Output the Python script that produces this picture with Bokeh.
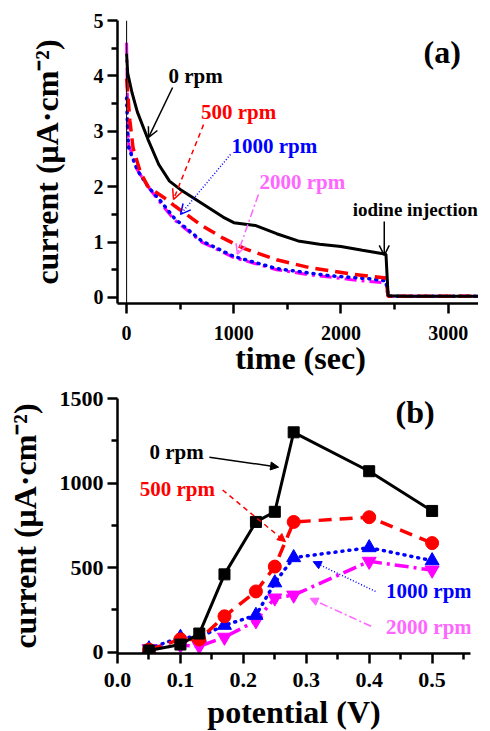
from bokeh.plotting import figure
from bokeh.layouts import column
from bokeh.models import (Arrow, OpenHead, NormalHead, Label, FixedTicker,
                          NumeralTickFormatter, Span)
from bokeh.embed import file_html
from bokeh.resources import INLINE

# ---------------- panel (a) data ----------------
t_0rpm = [0, 10, 50, 100, 200, 300, 400, 500, 700, 900, 1000, 1200, 1400, 1600, 1800, 2000, 2200, 2420, 2440, 2600, 3350]
i_0rpm = [4.4, 4.05, 3.7, 3.35, 2.85, 2.4, 2.1, 1.95, 1.7, 1.45, 1.35, 1.3, 1.15, 1.02, 0.96, 0.92, 0.85, 0.78, 0.03, 0.02, 0.02]

t_500 = [0, 10, 30, 60, 130, 200, 350, 450, 700, 900, 1100, 1400, 1700, 2100, 2420, 2440, 3350]
i_500 = [3.95, 3.7, 3.2, 2.7, 2.25, 2.0, 1.8, 1.65, 1.3, 1.07, 0.88, 0.68, 0.54, 0.42, 0.35, 0.02, 0.02]

t_1000 = [0, 10, 20, 100, 200, 300, 450, 700, 1000, 1400, 1900, 2250, 2420, 2440, 3350]
i_1000 = [3.6, 3.0, 2.7, 2.3, 2.0, 1.78, 1.42, 1.02, 0.74, 0.52, 0.39, 0.34, 0.3, 0.02, 0.02]

t_2000 = [0, 10, 20, 100, 200, 290, 440, 700, 1000, 1400, 1700, 2100, 2420, 2440, 3350]
i_2000 = [4.6, 3.2, 2.75, 2.3, 2.0, 1.77, 1.41, 1.0, 0.72, 0.5, 0.41, 0.32, 0.26, 0.02, 0.02]

# ---------------- panel (b) data ----------------
potential = [0.05, 0.10, 0.13, 0.17, 0.22, 0.25, 0.28, 0.40, 0.50]
j_0rpm = [10, 45, 110, 460, 770, 830, 1300, 1070, 835]
j_500 = [15, 76, 75, 212, 359, 506, 770, 798, 645]
j_1000 = [20, 88, 88, 159, 218, 410, 559, 618, 541]
j_2000 = [20, 41, 35, 88, 185, 320, 337, 537, 485]

xticks_a = [0, 1000, 2000, 3000]
xminor_a = [500, 1500, 2500]
yticks_a = [0, 1, 2, 3, 4, 5]
yminor_a = [0.5, 1.5, 2.5, 3.5, 4.5]
xticks_b = [0.0, 0.1, 0.2, 0.3, 0.4, 0.5]
xminor_b = [0.05, 0.15, 0.25, 0.35, 0.45, 0.55]
yticks_b = [0, 500, 1000, 1500]
yminor_b = [250, 750, 1250]

FONT = "Liberation Serif"
BLACK, RED, BLUE, MAG, PINK = "#000000", "#FF0000", "#0000FF", "#FF00FF", "#FF66FF"


def style(p, tick_size, label_size):
    p.outline_line_color = None
    p.xgrid.visible = False
    p.ygrid.visible = False
    p.background_fill_color = "white"
    p.border_fill_color = "white"
    for ax in (p.xaxis[0], p.yaxis[0]):
        ax.axis_line_width = 2.5
        ax.major_tick_line_width = 2.5
        ax.minor_tick_line_width = 2.5
        ax.major_tick_in = 0
        ax.major_tick_out = 10
        ax.minor_tick_in = 0
        ax.minor_tick_out = 6
        ax.major_label_text_font = FONT
        ax.major_label_text_font_style = "bold"
        ax.major_label_text_font_size = tick_size
        ax.major_label_text_color = "black"
        ax.axis_label_text_font = FONT
        ax.axis_label_text_font_style = "bold"
        ax.axis_label_text_font_size = label_size
        ax.axis_label_text_color = "black"
        ax.major_label_standoff = 4


def label(p, x, y, text, color, size="21px"):
    p.add_layout(Label(x=x, y=y, text=text, text_font=FONT, text_font_style="bold",
                       text_font_size=size, text_color=color, text_align="center",
                       text_baseline="middle"))


def arrow(p, xs, ys, xe, ye, color, dash, head):
    if head == "open":
        h = OpenHead(size=10, line_color=color, line_width=1.5)
    else:
        h = NormalHead(size=8, line_color=color, fill_color=color, line_width=1)
    p.add_layout(Arrow(end=h, x_start=xs, y_start=ys, x_end=xe, y_end=ye,
                       line_color=color, line_width=1.5, line_dash=dash))


# ================= panel (a) =================
p1 = figure(frame_width=366, frame_height=283, x_range=(-85, 3330), y_range=(-0.11, 5.0),
            output_backend="svg", toolbar_location=None,
            min_border_left=109, min_border_right=3, min_border_top=20, min_border_bottom=76)
style(p1, "20px", "32px")
p1.xaxis.ticker = FixedTicker(ticks=xticks_a, minor_ticks=xminor_a)
p1.yaxis.ticker = FixedTicker(ticks=yticks_a, minor_ticks=yminor_a)
p1.xaxis.axis_label = "time (sec)"
p1.yaxis.axis_label = "current (μA·cm⁻²)"
p1.xaxis.major_label_standoff = 12
p1.xaxis.axis_label_standoff = -3
p1.yaxis.axis_label_standoff = 26

p1.add_layout(Span(location=0, dimension="height", line_color="black", line_width=1))
p1.line(t_2000, i_2000, line_color=MAG, line_width=3, line_dash="12 5 3 5")
p1.line(t_1000, i_1000, line_color=BLUE, line_width=3.5, line_dash="1 6", line_cap="round")
p1.line(t_500, i_500, line_color=RED, line_width=3.5, line_dash="13 7")
p1.line(t_0rpm, i_0rpm, line_color=BLACK, line_width=3)

label(p1, 643, 3.99, "0 rpm", BLACK)
arrow(p1, 429, 3.79, 205, 2.89, BLACK, "solid", "open")
label(p1, 1044, 3.34, "500 rpm", RED)
arrow(p1, 718, 3.12, 438, 1.77, RED, "5 4", "open")
label(p1, 1379, 2.74, "1000 rpm", BLUE)
arrow(p1, 969, 2.58, 503, 1.50, BLUE, "1 2", "open")
label(p1, 1640, 2.08, "2000 rpm", PINK)
arrow(p1, 1230, 1.86, 1034, 0.78, PINK, "8 3 2 3", "open")
label(p1, 2693, 1.59, "iodine injection", BLACK, "19px")
arrow(p1, 2404, 1.37, 2404, 0.76, BLACK, "solid", "open")
label(p1, 2945, 4.44, "(a)", BLACK, "32px")

# ================= panel (b) =================
p2 = figure(frame_width=353, frame_height=255, x_range=(0, 0.561), y_range=(-8, 1500),
            output_backend="svg", toolbar_location=None,
            min_border_left=117, min_border_right=3, min_border_top=19, min_border_bottom=77)
style(p2, "22px", "32px")
p2.xaxis.ticker = FixedTicker(ticks=xticks_b, minor_ticks=xminor_b)
p2.yaxis.ticker = FixedTicker(ticks=yticks_b, minor_ticks=yminor_b)
p2.xaxis.formatter = NumeralTickFormatter(format="0.0")
p2.xaxis.axis_label = "potential (V)"
p2.yaxis.axis_label = "current (μA·cm⁻²)"
p2.xaxis.major_label_standoff = 9
p2.xaxis.axis_label_standoff = 4
p2.yaxis.axis_label_standoff = 14

p2.line(potential, j_2000, line_color=MAG, line_width=3.5, line_dash="14 5 3 5")
p2.scatter(potential, j_2000, marker="inverted_triangle", size=14, color=MAG)
p2.line(potential, j_1000, line_color=BLUE, line_width=3.5, line_dash="1 6", line_cap="round")
p2.scatter(potential, j_1000, marker="triangle", size=14, color=BLUE)
p2.line(potential, j_500, line_color=RED, line_width=3.5, line_dash="13 8")
p2.scatter(potential, j_500, marker="circle", size=13, color=RED)
p2.line(potential, j_0rpm, line_color=BLACK, line_width=3)
p2.scatter(potential, j_0rpm, marker="square", size=11, color=BLACK)

label(p2, 0.094, 1182, "0 rpm", BLACK)
arrow(p2, 0.146, 1153, 0.256, 1094, BLACK, "solid", "normal")
label(p2, 0.095, 965, "500 rpm", RED)
arrow(p2, 0.167, 959, 0.267, 653, RED, "5 4", "normal")
label(p2, 0.495, 359, "1000 rpm", BLUE)
arrow(p2, 0.410, 359, 0.311, 535, BLUE, "1 2", "normal")
label(p2, 0.495, 147, "2000 rpm", PINK)
arrow(p2, 0.403, 153, 0.306, 318, PINK, "8 3 2 3", "normal")
label(p2, 0.473, 1418, "(b)", BLACK, "32px")

layout = column(p1, p2)
open("out.html", "w").write(file_html(layout, INLINE))
